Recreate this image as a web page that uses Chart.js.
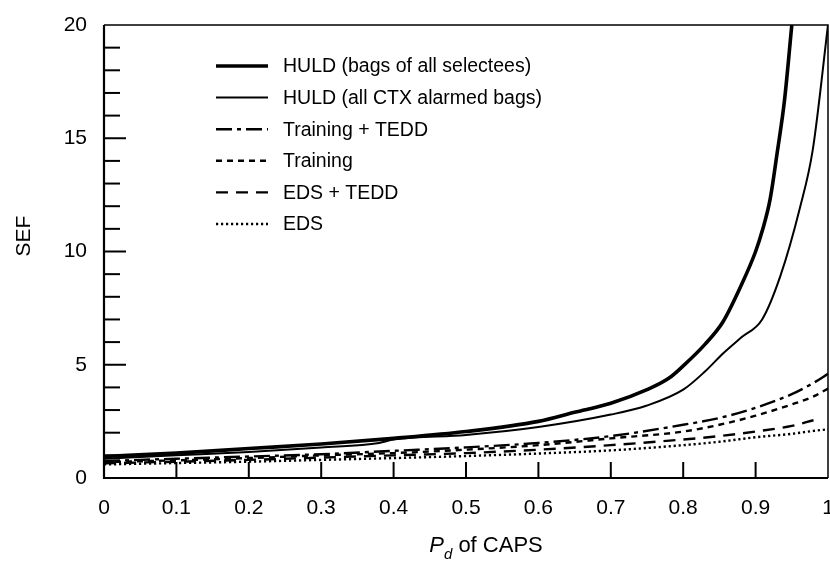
<!DOCTYPE html>
<html>
<head>
<meta charset="utf-8">
<script src="https://cdn.jsdelivr.net/npm/chart.js@4"></script>
<style>
  html, body { margin: 0; padding: 0; background: #fff; }
  #wrap { width: 830px; height: 567px; }
</style>
</head>
<body>
<div id="wrap"><canvas id="sef-chart" width="830" height="567"></canvas></div>
<script>
// P_d of CAPS grid for the lower curves
const pdGrid = [0, 0.1, 0.2, 0.3, 0.4, 0.5, 0.6, 0.7, 0.8, 0.85, 0.9, 0.95, 0.98, 1.0];
const trainingTedd = [0.75, 0.85, 0.95, 1.05, 1.2, 1.35, 1.55, 1.85, 2.35, 2.65, 3.1, 3.7, 4.2, 4.6];
const training     = [0.7, 0.78, 0.88, 1.0, 1.1, 1.25, 1.45, 1.75, 2.05, 2.35, 2.75, 3.25, 3.6, 3.95];
const edsTedd      = [0.65, 0.72, 0.8, 0.9, 1.0, 1.1, 1.25, 1.45, 1.7, 1.85, 2.05, 2.3, 2.55, null];
const eds          = [0.6, 0.66, 0.72, 0.8, 0.88, 0.97, 1.08, 1.22, 1.45, 1.6, 1.8, 1.95, 2.08, 2.15];

// HULD curves (steep part needs more points)
const pdSelectees = [0, 0.1, 0.2, 0.3, 0.4, 0.5, 0.6, 0.65, 0.7, 0.75, 0.78, 0.8, 0.83, 0.855, 0.88, 0.9, 0.91, 0.92, 0.93, 0.94, 0.95];
const huldSelectees = [0.95, 1.1, 1.3, 1.5, 1.75, 2.05, 2.5, 2.9, 3.3, 3.9, 4.4, 4.95, 5.9, 6.9, 8.5, 10.0, 11.0, 12.3, 14.4, 16.7, 20];
const pdCtx = [0, 0.1, 0.2, 0.3, 0.38, 0.4, 0.5, 0.6, 0.7, 0.75, 0.8, 0.83, 0.855, 0.88, 0.909, 0.934, 0.961, 0.979, 1.0];
const huldCtx = [0.85, 1.0, 1.15, 1.35, 1.55, 1.7, 1.9, 2.25, 2.8, 3.2, 3.9, 4.7, 5.5, 6.2, 7.0, 8.9, 11.9, 14.5, 20];

const seriesNames = [
  "HULD (bags of all selectees)",
  "HULD (all CTX alarmed bags)",
  "Training + TEDD",
  "Training",
  "EDS + TEDD",
  "EDS"
];

const FONT = '"Liberation Sans", Arial, Helvetica, sans-serif';

function toPoints(xs, ys) {
  return xs.map((x, i) => ({ x: x, y: ys[i] }));
}

function makeSet(label, xs, ys, width, dash) {
  return {
    label: label,
    data: toPoints(xs, ys),
    borderColor: "#000",
    borderWidth: width,
    borderDash: dash,
    pointRadius: 0,
    fill: false,
    cubicInterpolationMode: "monotone",
    spanGaps: false
  };
}

// 坐标框、刻度、图例、轴标题
const decorPlugin = {
  id: "decor",
  afterDraw(chart) {
    const ctx = chart.ctx;
    const a = chart.chartArea;
    const xs = chart.scales.x;
    const ys = chart.scales.y;
    ctx.save();
    ctx.strokeStyle = "#000";
    ctx.lineCap = "butt";

    // frame
    ctx.lineWidth = 1.5;
    ctx.beginPath();
    ctx.moveTo(a.left, a.top);
    ctx.lineTo(a.right, a.top);
    ctx.lineTo(a.right, a.bottom);
    ctx.stroke();
    ctx.lineWidth = 2.2;
    ctx.beginPath();
    ctx.moveTo(a.left, a.top);
    ctx.lineTo(a.left, a.bottom);
    ctx.lineTo(a.right, a.bottom);
    ctx.stroke();

    // y ticks, pointing inward
    ctx.lineWidth = 2;
    for (let v = 1; v < 20; v++) {
      const py = ys.getPixelForValue(v);
      const len = v % 5 === 0 ? 22 : 16;
      ctx.beginPath();
      ctx.moveTo(a.left, py);
      ctx.lineTo(a.left + len, py);
      ctx.stroke();
    }
    // x ticks
    for (let i = 1; i < 10; i++) {
      const px = xs.getPixelForValue(i / 10);
      ctx.beginPath();
      ctx.moveTo(px, a.bottom);
      ctx.lineTo(px, a.bottom - 16);
      ctx.stroke();
    }

    // legend inside the plot
    ctx.font = "19.5px " + FONT;
    ctx.fillStyle = "#000";
    ctx.textBaseline = "middle";
    ctx.textAlign = "left";
    chart.data.datasets.forEach((ds, i) => {
      const y = 66 + i * 31.6;
      ctx.lineWidth = ds.borderWidth;
      ctx.setLineDash(ds.borderDash || []);
      ctx.beginPath();
      ctx.moveTo(216, y);
      ctx.lineTo(268, y);
      ctx.stroke();
      ctx.setLineDash([]);
      ctx.fillText(ds.label, 283, y + 1);
    });

    // y title
    ctx.save();
    ctx.translate(24, 236);
    ctx.rotate(-Math.PI / 2);
    ctx.textAlign = "center";
    ctx.font = "21px " + FONT;
    ctx.fillText("SEF", 0, 0);
    ctx.restore();

    // x title: P_d of CAPS
    const base = 552;
    const p = "P", d = "d", rest = " of CAPS";
    ctx.textBaseline = "alphabetic";
    ctx.font = "italic 22px " + FONT;
    const wP = ctx.measureText(p).width;
    ctx.font = "italic 15px " + FONT;
    const wD = ctx.measureText(d).width;
    ctx.font = "22px " + FONT;
    const wR = ctx.measureText(rest).width;
    let x0 = 486 - (wP + wD + wR) / 2;
    ctx.font = "italic 22px " + FONT;
    ctx.fillText(p, x0, base);
    ctx.font = "italic 15px " + FONT;
    ctx.fillText(d, x0 + wP, base + 7);
    ctx.font = "22px " + FONT;
    ctx.fillText(rest, x0 + wP + wD, base);
    ctx.restore();
  }
};

new Chart(document.getElementById("sef-chart"), {
  type: "line",
  data: {
    datasets: [
      makeSet(seriesNames[0], pdSelectees, huldSelectees, 3.6, []),
      makeSet(seriesNames[1], pdCtx, huldCtx, 2, []),
      makeSet(seriesNames[2], pdGrid, trainingTedd, 2.4, [16, 5, 4, 5]),
      makeSet(seriesNames[3], pdGrid, training, 2.4, [6, 5]),
      makeSet(seriesNames[4], pdGrid, edsTedd, 2.4, [12, 8]),
      makeSet(seriesNames[5], pdGrid, eds, 2.4, [2.2, 2.8])
    ]
  },
  options: {
    responsive: false,
    animation: false,
    devicePixelRatio: 1,
    layout: { padding: { top: 25, right: 2, left: 0, bottom: 0 } },
    plugins: { legend: { display: false }, tooltip: { enabled: false } },
    scales: {
      x: {
        type: "linear",
        min: 0,
        max: 1,
        grid: { display: false, drawTicks: false },
        border: { display: false },
        ticks: {
          stepSize: 0.1,
          color: "#000",
          font: { family: FONT, size: 21 },
          padding: 18,
          maxRotation: 0,
          callback: v => String(+v.toFixed(1))
        },
        afterFit: s => { s.height = 89; s.paddingLeft = 0; s.paddingRight = 0; }
      },
      y: {
        min: 0,
        max: 20,
        grid: { display: false, drawTicks: false },
        border: { display: false },
        ticks: {
          stepSize: 5,
          color: "#000",
          font: { family: FONT, size: 21 },
          padding: 17
        },
        afterFit: s => { s.width = 104; s.paddingTop = 0; s.paddingBottom = 0; }
      }
    }
  },
  plugins: [decorPlugin]
});
</script>
</body>
</html>
